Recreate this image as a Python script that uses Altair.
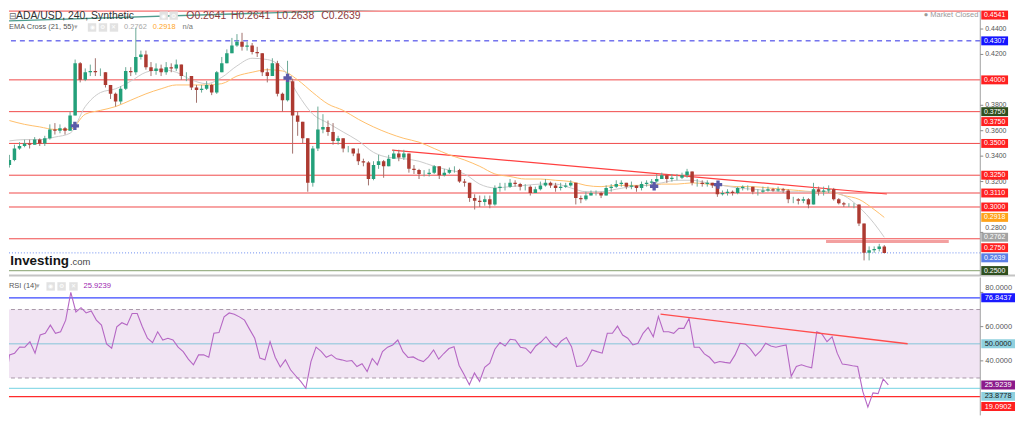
import altair as alt
import pandas as pd

# ---------------- time axis: day number counted from 1 Oct (1 Nov = 32, 1 Dec = 62) ----------------
first_candle_day = 21 + 1 / 3
candle_step_days = 1 / 3  # 8-hour candles
x_tick_values = [25, 28.625, 32, 36, 40, 44, 48, 52, 56, 62, 66, 70, 74, 78, 82]
x_tick_labels = ["25", "15:00", "Nov", "5", "9", "13", "17", "21", "25", "Dec", "5", "9", "13", "17", "21"]

# ---------------- ADA/USD candles ----------------
first_open = 0.333
closes = [
    0.337, 0.346, 0.348, 0.350, 0.349, 0.353, 0.350, 0.354, 0.361, 0.360,
    0.362, 0.360, 0.372, 0.413, 0.400, 0.406, 0.407, 0.406, 0.406, 0.396,
    0.389, 0.383, 0.393, 0.407, 0.406, 0.418, 0.420, 0.410, 0.407, 0.409,
    0.406, 0.410, 0.409, 0.412, 0.403, 0.403, 0.394, 0.392, 0.393, 0.396,
    0.390, 0.406, 0.413, 0.421, 0.427, 0.430, 0.426, 0.427, 0.422, 0.421,
    0.406, 0.403, 0.413, 0.389, 0.384, 0.399, 0.372, 0.367, 0.354, 0.319,
    0.346, 0.361, 0.363, 0.359, 0.352, 0.354, 0.346, 0.346, 0.342, 0.336,
    0.335, 0.322, 0.333, 0.336, 0.332, 0.338, 0.342, 0.339, 0.342, 0.330,
    0.329, 0.326, 0.326, 0.327, 0.332, 0.325, 0.327, 0.329, 0.329, 0.320,
    0.319, 0.307, 0.305, 0.304, 0.306, 0.302, 0.315, 0.316, 0.316, 0.319,
    0.318, 0.316, 0.316, 0.311, 0.314, 0.317, 0.319, 0.317, 0.315, 0.316,
    0.317, 0.319, 0.307, 0.306, 0.309, 0.311, 0.311, 0.309, 0.315, 0.316,
    0.318, 0.319, 0.316, 0.317, 0.315, 0.318, 0.319, 0.320, 0.322, 0.325,
    0.322, 0.323, 0.323, 0.325, 0.328, 0.319, 0.319, 0.318, 0.319, 0.317,
    0.310, 0.311, 0.312, 0.311, 0.315, 0.316, 0.316, 0.312, 0.312, 0.313,
    0.314, 0.313, 0.314, 0.313, 0.306, 0.306, 0.305, 0.306, 0.302, 0.314,
    0.312, 0.313, 0.314, 0.306, 0.303, 0.302, 0.302, 0.302, 0.287, 0.264,
    0.266, 0.267, 0.269, 0.2639]
highs = [
    0.341, 0.349, 0.351, 0.353, 0.353, 0.355, 0.354, 0.356, 0.365, 0.366,
    0.365, 0.363, 0.375, 0.416, 0.414, 0.409, 0.412, 0.417, 0.409, 0.406,
    0.396, 0.390, 0.395, 0.410, 0.410, 0.441, 0.423, 0.423, 0.414, 0.413,
    0.412, 0.414, 0.413, 0.416, 0.412, 0.406, 0.403, 0.396, 0.396, 0.399,
    0.397, 0.407, 0.418, 0.424, 0.433, 0.436, 0.437, 0.430, 0.429, 0.426,
    0.420, 0.409, 0.417, 0.415, 0.390, 0.415, 0.401, 0.375, 0.367, 0.346,
    0.348, 0.379, 0.373, 0.368, 0.366, 0.356, 0.353, 0.348, 0.346, 0.346,
    0.338, 0.336, 0.336, 0.341, 0.337, 0.341, 0.345, 0.345, 0.345, 0.342,
    0.333, 0.330, 0.329, 0.330, 0.333, 0.331, 0.330, 0.331, 0.332, 0.330,
    0.322, 0.319, 0.310, 0.309, 0.309, 0.309, 0.317, 0.319, 0.319, 0.322,
    0.321, 0.319, 0.318, 0.317, 0.316, 0.320, 0.322, 0.320, 0.319, 0.319,
    0.319, 0.321, 0.319, 0.309, 0.312, 0.313, 0.313, 0.312, 0.317, 0.318,
    0.321, 0.321, 0.319, 0.320, 0.317, 0.320, 0.321, 0.322, 0.326, 0.327,
    0.326, 0.326, 0.326, 0.327, 0.330, 0.328, 0.322, 0.321, 0.321, 0.319,
    0.319, 0.313, 0.314, 0.313, 0.316, 0.317, 0.317, 0.316, 0.314, 0.316,
    0.316, 0.315, 0.316, 0.315, 0.314, 0.308, 0.307, 0.308, 0.307, 0.319,
    0.316, 0.316, 0.317, 0.315, 0.307, 0.304, 0.303, 0.303, 0.302, 0.287,
    0.269, 0.269, 0.271, 0.270]
lows = [
    0.331, 0.336, 0.345, 0.347, 0.346, 0.349, 0.348, 0.348, 0.353, 0.357,
    0.358, 0.357, 0.360, 0.372, 0.398, 0.399, 0.403, 0.403, 0.403, 0.394,
    0.385, 0.379, 0.381, 0.392, 0.403, 0.404, 0.416, 0.408, 0.403, 0.404,
    0.403, 0.404, 0.406, 0.407, 0.400, 0.399, 0.392, 0.382, 0.390, 0.392,
    0.388, 0.389, 0.406, 0.413, 0.421, 0.426, 0.423, 0.423, 0.420, 0.418,
    0.403, 0.398, 0.404, 0.387, 0.375, 0.383, 0.342, 0.356, 0.350, 0.312,
    0.316, 0.344, 0.358, 0.356, 0.349, 0.349, 0.343, 0.343, 0.340, 0.333,
    0.332, 0.317, 0.321, 0.330, 0.323, 0.333, 0.338, 0.336, 0.337, 0.327,
    0.326, 0.322, 0.324, 0.324, 0.326, 0.322, 0.324, 0.326, 0.327, 0.319,
    0.316, 0.304, 0.298, 0.300, 0.301, 0.299, 0.301, 0.312, 0.313, 0.315,
    0.316, 0.313, 0.313, 0.309, 0.311, 0.313, 0.316, 0.315, 0.312, 0.313,
    0.315, 0.316, 0.302, 0.303, 0.305, 0.309, 0.309, 0.307, 0.309, 0.312,
    0.315, 0.316, 0.314, 0.314, 0.312, 0.313, 0.316, 0.318, 0.319, 0.322,
    0.319, 0.320, 0.321, 0.322, 0.323, 0.317, 0.316, 0.316, 0.316, 0.315,
    0.308, 0.309, 0.309, 0.309, 0.310, 0.313, 0.313, 0.310, 0.309, 0.311,
    0.312, 0.312, 0.312, 0.311, 0.303, 0.303, 0.302, 0.303, 0.299, 0.302,
    0.309, 0.309, 0.311, 0.305, 0.302, 0.300, 0.300, 0.299, 0.285, 0.258,
    0.258, 0.264, 0.265, 0.2635]

# ---------------- EMA Cross (21, 55), read once per day ----------------
ema_candle_index = list(range(0, 172, 3)) + [173]
ema21 = [
    0.352, 0.353, 0.353, 0.355, 0.358, 0.379, 0.390, 0.393, 0.399, 0.406,
    0.408, 0.406, 0.400, 0.397, 0.402, 0.411, 0.417, 0.416, 0.409, 0.389,
    0.373, 0.366, 0.359, 0.352, 0.343, 0.339, 0.338, 0.336, 0.332, 0.329,
    0.326, 0.318, 0.315, 0.316, 0.317, 0.318, 0.318, 0.315, 0.312, 0.312,
    0.314, 0.316, 0.317, 0.319, 0.321, 0.321, 0.319, 0.317, 0.315, 0.314,
    0.313, 0.312, 0.312, 0.312, 0.312, 0.309, 0.300, 0.287, 0.2762]
ema55 = [
    0.368, 0.365, 0.363, 0.361, 0.361, 0.373, 0.376, 0.379, 0.384, 0.389,
    0.393, 0.396, 0.396, 0.396, 0.397, 0.403, 0.406, 0.408, 0.407, 0.400,
    0.390, 0.381, 0.376, 0.369, 0.363, 0.358, 0.354, 0.351, 0.346, 0.341,
    0.337, 0.332, 0.326, 0.324, 0.322, 0.322, 0.321, 0.320, 0.317, 0.316,
    0.317, 0.317, 0.317, 0.318, 0.318, 0.319, 0.318, 0.317, 0.316, 0.316,
    0.315, 0.314, 0.313, 0.312, 0.312, 0.309, 0.306, 0.298, 0.2918]
cross_days = [25.65, 39.67, 63.83, 68.04]
cross_values = [0.3638, 0.4015, 0.3163, 0.3176]

# ---------------- RSI (14) ----------------
rsi14 = [
    22.0, 43.5, 44.5, 48.1, 48.0, 51.2, 44.5, 55.1, 56.1, 60.9,
    56.1, 57.0, 63.8, 80.0, 68.6, 71.1, 68.0, 69.2, 63.8, 60.9,
    49.9, 47.4, 59.9, 62.3, 60.9, 67.7, 67.7, 59.9, 53.2, 50.6,
    57.0, 52.2, 53.2, 52.2, 48.0, 45.4, 41.0, 37.7, 43.5, 43.5,
    42.1, 56.1, 56.5, 65.7, 68.0, 67.3, 65.7, 63.8, 58.4, 53.2,
    41.6, 40.6, 51.2, 42.1, 36.4, 40.6, 34.8, 31.3, 28.0, 24.0,
    39.6, 48.0, 45.6, 42.1, 43.5, 41.2, 40.6, 39.8, 40.2, 36.7,
    38.3, 33.8, 41.4, 37.7, 45.4, 48.0, 49.3, 52.2, 45.4, 42.0,
    42.3, 40.6, 39.6, 42.3, 46.4, 41.0, 44.3, 47.2, 48.3, 37.3,
    31.9, 26.1, 32.9, 28.0, 36.2, 38.7, 46.8, 50.8, 48.7, 52.6,
    52.2, 48.0, 47.4, 44.5, 48.7, 51.0, 54.1, 50.3, 48.0, 51.6,
    53.7, 48.3, 36.7, 37.1, 40.2, 46.4, 45.4, 44.5, 56.1, 56.1,
    60.3, 55.1, 53.2, 49.3, 50.3, 56.1, 59.5, 54.1, 66.0, 57.0,
    57.0, 56.1, 59.0, 59.0, 64.8, 48.0, 48.0, 44.1, 42.1, 38.7,
    39.6, 39.1, 38.7, 43.5, 50.3, 49.9, 47.0, 42.9, 45.8, 50.3,
    48.7, 48.0, 48.7, 49.3, 31.0, 36.7, 37.7, 36.7, 36.0, 57.0,
    55.7, 51.2, 54.1, 44.5, 38.1, 37.7, 37.1, 36.7, 22.2, 13.0,
    21.3, 20.9, 29.4, 25.92]

# ---------------- drawn levels and trend lines ----------------
red_levels = [0.4541, 0.4000, 0.3750, 0.3500, 0.3250, 0.3110, 0.3000, 0.2750]
dashed_level = [0.4307]
green_level = [0.2500]
last_price = [0.2639]
zone_level = [0.2729]
zone_days = [75.16, 83.25]
price_trend_days = [46.55, 79.17]
price_trend_values = [0.3448, 0.3102]
upper_trend_days = [21.31, 47.0]
upper_trend_values = [0.4464, 0.4559]

rsi_band = [30, 70]
rsi_trend_days = [64.14, 80.26]
rsi_trend_values = [67.3, 50.0]

# scale labels that stay visible beside the value tags
price_axis_values = [0.44, 0.42, 0.38, 0.36, 0.34, 0.32]
price_axis_values_raised = [0.28]
rsi_axis_values = [40, 60]
rsi_axis_values_raised = [80]

price_tag_values = [0.4541, 0.4307, 0.4000, 0.3750, 0.3750, 0.3500, 0.3250,
                    0.3110, 0.3000, 0.2918, 0.2762, 0.2750, 0.2639, 0.2500]
rsi_tag_values = [76.8437, 50.0, 25.9239, 23.8778, 19.0902]

# ---------------- styling ----------------
RED = "#ff2020"
price_tag_fill = [RED, "#1515ff", RED, "#2f4f1f", RED, RED, RED, RED, RED,
                  "#ffa31a", "#a3a3a3", RED, "#5b7fe6", "#2f4f1f"]
price_tag_nudge = {0: 4, 4: 10, 11: 9, 12: 5}
rsi_tag_fill = ["#1a1aff", "#8fd0de", "#8b1a8b", "#8fd0de", RED]
rsi_tag_text = ["white", "#1a1a1a", "white", "#1a1a1a", "white"]
rsi_tag_nudge = {3: 8, 4: 10}
UP, DOWN = "#23a07a", "#ad3a31"
UP_WICK, DOWN_WICK = "#6aa895", "#a0706b"

W = 979
H_TOP, H_RSI = 267, 139

# ---------------- tables ----------------
n = min(len(closes), len(highs), len(lows), len(rsi14))
opens = [first_open] + closes[: n - 1]
candles = pd.DataFrame({
    "t": [first_candle_day + i * candle_step_days for i in range(n)],
    "o": opens, "h": highs[:n], "l": lows[:n], "c": closes[:n], "r": rsi14[:n],
})
candles["h"] = candles[["h", "o", "c"]].max(axis=1)
candles["l"] = candles[["l", "o", "c"]].min(axis=1)

ema = pd.DataFrame({
    "t": [first_candle_day + i * candle_step_days for i in ema_candle_index],
    "e21": ema21, "e55": ema55,
})

xs = alt.Scale(domain=[21.634, 85.0], nice=False, zero=False)
ys = alt.Scale(domain=[0.2461, 0.45449], nice=False, zero=False)
rs = alt.Scale(domain=[8.14, 88.72], nice=False, zero=False)

label_expr = " : ".join(f"datum.value == {v} ? '{s}'" for v, s in zip(x_tick_values, x_tick_labels)) + " : ''"
x_axis = alt.Axis(values=x_tick_values, labelExpr=label_expr, title=None, grid=False, ticks=False,
                  labelFontSize=7.5, labelColor="#555", domainColor="#b0b0b0", labelPadding=4)


def text_at(s, x, y, size, color, weight="normal", align="left", baseline="middle"):
    return alt.Chart(pd.DataFrame({"s": [s]})).mark_text(
        fontSize=size, color=color, fontWeight=weight, align=align, baseline=baseline
    ).encode(x=alt.value(x), y=alt.value(y), text="s:N")


def icon(x, y, glyph):
    d = pd.DataFrame({"s": [glyph]})
    box = alt.Chart(d).mark_point(shape="square", filled=True, color="#e2e2e2", opacity=1,
                                  size=72).encode(x=alt.value(x), y=alt.value(y))
    g = alt.Chart(d).mark_text(fontSize=6.5, color="white", align="center", baseline="middle").encode(
        x=alt.value(x), y=alt.value(y), text="s:N")
    return [box, g]


def right_axis(values, raised, yscale, fsize):
    """Price-scale axis on the right edge: domain line, ticks and labels."""
    layers = [alt.Chart(pd.DataFrame({"k": [0]})).mark_rule(color="#a0a0a0", strokeWidth=1).encode(
        x=alt.value(W))]
    d = pd.DataFrame({"v": values + raised})
    layers.append(alt.Chart(d).mark_rule(color="#8a8a8a", strokeWidth=1).encode(
        x=alt.value(W), x2=alt.value(W + 3), y=alt.Y("v:Q", scale=yscale, axis=None)))
    for vals, dy in ((values, 0), (raised, -4)):
        layers.append(alt.Chart(pd.DataFrame({"v": vals})).mark_text(
            align="left", baseline="middle", fontSize=fsize, color="#555", yOffset=dy).encode(
            x=alt.value(W + 5), y=alt.Y("v:Q", scale=yscale, axis=None),
            text=alt.Text("v:Q", format=".4f")))
    return layers


def tag(value, label, fill, tcolor, nudge, yscale, xc, width, height, fsize):
    d = pd.DataFrame({"v": [value], "s": [label]})
    half = height / width
    path = f"M-1,-{half:.4f}L1,-{half:.4f}L1,{half:.4f}L-1,{half:.4f}Z"
    box = alt.Chart(d).mark_point(shape=path, filled=True, color=fill, opacity=1, strokeWidth=0,
                                  size=width * width, yOffset=nudge).encode(
        x=alt.value(xc), y=alt.Y("v:Q", scale=yscale, axis=None))
    txt = alt.Chart(d).mark_text(color=tcolor, fontSize=fsize, align="center", baseline="middle",
                                 yOffset=nudge).encode(
        x=alt.value(xc), y=alt.Y("v:Q", scale=yscale, axis=None), text="s:N")
    return [box, txt]


# ---------------- price panel ----------------
top_layers = []
top_layers.append(alt.Chart(pd.DataFrame({"v": red_levels})).mark_rule(color="#f04848", strokeWidth=1).encode(
    y=alt.Y("v:Q", scale=ys, axis=None)))
top_layers.append(alt.Chart(pd.DataFrame({"v": dashed_level})).mark_rule(
    color="#2b2be6", strokeWidth=1, strokeDash=[5, 4]).encode(y=alt.Y("v:Q", scale=ys, axis=None)))
top_layers.append(alt.Chart(pd.DataFrame({"v": green_level})).mark_rule(color="#9db38a", strokeWidth=1.2).encode(
    y=alt.Y("v:Q", scale=ys, axis=None)))
top_layers.append(alt.Chart(pd.DataFrame({"v": last_price})).mark_rule(
    color="#6a8cf0", strokeWidth=1, strokeDash=[1, 2]).encode(y=alt.Y("v:Q", scale=ys, axis=None)))
top_layers.append(alt.Chart(pd.DataFrame({"v": zone_level, "a": [zone_days[0]], "b": [zone_days[1]]})).mark_rule(
    color="#f3a0a0", strokeWidth=3).encode(
    x=alt.X("a:Q", scale=xs, axis=None), x2="b:Q", y=alt.Y("v:Q", scale=ys, axis=None)))
top_layers.append(alt.Chart(pd.DataFrame({"t": price_trend_days, "v": price_trend_values})).mark_line(
    color="#ff4040", strokeWidth=1.2, clip=True).encode(
    x=alt.X("t:Q", scale=xs, axis=None), y=alt.Y("v:Q", scale=ys, axis=None)))
top_layers.append(alt.Chart(pd.DataFrame({"t": upper_trend_days, "v": upper_trend_values})).mark_line(
    color="#4f9d8f", strokeWidth=1.3, clip=True).encode(
    x=alt.X("t:Q", scale=xs, axis=None), y=alt.Y("v:Q", scale=ys, axis=None)))
top_layers.append(alt.Chart(ema).mark_line(color="#ffbe6a", strokeWidth=1, interpolate="monotone", clip=True).encode(
    x=alt.X("t:Q", scale=xs, axis=None), y=alt.Y("e55:Q", scale=ys, axis=None)))
top_layers.append(alt.Chart(ema).mark_line(color="#cacaca", strokeWidth=1, interpolate="monotone", clip=True).encode(
    x=alt.X("t:Q", scale=xs, axis=None), y=alt.Y("e21:Q", scale=ys, axis=None)))
top_layers.append(alt.Chart(candles).mark_rule(strokeWidth=1, clip=True).encode(
    x=alt.X("t:Q", scale=xs, axis=None), y=alt.Y("l:Q", scale=ys, axis=None), y2="h:Q",
    color=alt.condition("datum.c >= datum.o", alt.value(UP_WICK), alt.value(DOWN_WICK))))
top_layers.append(alt.Chart(candles).mark_bar(size=3.5, clip=True).encode(
    x=alt.X("t:Q", scale=xs, axis=None), y=alt.Y("o:Q", scale=ys, axis=None), y2="c:Q",
    color=alt.condition("datum.c >= datum.o", alt.value(UP), alt.value(DOWN))))
top_layers.append(alt.Chart(pd.DataFrame({"t": cross_days, "v": cross_values})).mark_point(
    shape="cross", filled=True, color="#5a5aa8", opacity=1, size=70).encode(
    x=alt.X("t:Q", scale=xs, axis=None), y=alt.Y("v:Q", scale=ys, axis=None)))
# panel separator
top_layers.append(alt.Chart(pd.DataFrame({"k": [0]})).mark_rule(color="#c4c4c4", strokeWidth=2).encode(
    y=alt.value(H_TOP), x=alt.value(0), x2=alt.value(W + 35)))
top_layers += right_axis(price_axis_values, price_axis_values_raised, ys, 7)

for i, v in enumerate(price_tag_values):
    top_layers += tag(v, f"{v:.4f}", price_tag_fill[i], "white", price_tag_nudge.get(i, 0),
                      ys, 993.5, 27, 9, 7)

# header, line 1
top_layers.append(text_at("⊟", 0, 8.5, 9, "#666", baseline="alphabetic"))
top_layers.append(text_at("ADA/USD, 240, Synthetic", 7, 8.5, 10.5, "#333", baseline="alphabetic"))
top_layers += icon(156, 5, "◉") + icon(166, 5, "⚙")
for s, x in zip(["O0.2641", "H0.2641", "L0.2638", "C0.2639"], [178.7, 223.7, 269.7, 314.7]):
    top_layers.append(text_at(s, x, 8.5, 10.5, "#8d3c3c", baseline="alphabetic"))
# header, line 2
top_layers.append(text_at("EMA Cross (21, 55)", 0, 17, 7.5, "#555"))
top_layers.append(text_at("▾", 66, 17, 7, "#aaa"))
top_layers += icon(83.7, 17, "◉") + icon(94.7, 17, "⚙") + icon(105.8, 17, "✕")
top_layers.append(text_at("0.2762", 116, 17, 7.5, "#a8a8a8"))
top_layers.append(text_at("0.2918", 145, 17, 7.5, "#ffa726"))
top_layers.append(text_at("n/a", 175, 17, 7.5, "#777"))
# market status and logo
top_layers.append(text_at("● Market Closed", 977, 6.5, 7.5, "#9a9a9a", align="right", baseline="alphabetic"))
top_layers.append(text_at("Investing", 1.3, 256, 13.5, "#151515", weight="bold", baseline="alphabetic"))
top_layers.append(text_at(".com", 61.5, 256, 9.5, "#444", baseline="alphabetic"))

top = alt.layer(*top_layers).properties(width=W, height=H_TOP)

# ---------------- RSI panel ----------------
rsi_layers = []
rsi_layers.append(alt.Chart(pd.DataFrame({"lo": [rsi_band[0]], "hi": [rsi_band[1]]})).mark_rect(
    color="#f1e4f3").encode(y=alt.Y("hi:Q", scale=rs, axis=None), y2="lo:Q",
                             x=alt.value(0), x2=alt.value("width")))
rsi_layers.append(alt.Chart(pd.DataFrame({"v": rsi_band})).mark_rule(
    color="#a898a8", strokeWidth=1, strokeDash=[4, 3]).encode(y=alt.Y("v:Q", scale=rs, axis=None)))
for v, col, w in [(76.8437, "#3b48ff", 1.3), (50.0, "#a9cfe2", 1.5), (23.8778, "#8fdbe8", 1.3), (19.0902, "#ff2b2b", 1.3)]:
    rsi_layers.append(alt.Chart(pd.DataFrame({"v": [v]})).mark_rule(color=col, strokeWidth=w).encode(
        y=alt.Y("v:Q", scale=rs, axis=None)))
rsi_layers.append(alt.Chart(candles).mark_line(color="#b567c4", strokeWidth=1.1, clip=True).encode(
    x=alt.X("t:Q", scale=xs, axis=x_axis), y=alt.Y("r:Q", scale=rs, axis=None)))
rsi_layers.append(alt.Chart(pd.DataFrame({"t": rsi_trend_days, "v": rsi_trend_values})).mark_line(
    color="#ff4d4d", strokeWidth=1.3).encode(
    x=alt.X("t:Q", scale=xs, axis=None), y=alt.Y("v:Q", scale=rs, axis=None)))
rsi_layers += right_axis(rsi_axis_values, rsi_axis_values_raised, rs, 7.5)
for i, v in enumerate(rsi_tag_values):
    rsi_layers += tag(v, f"{v:.4f}", rsi_tag_fill[i], rsi_tag_text[i], rsi_tag_nudge.get(i, 0),
                      rs, 997, 34, 9, 7.5)
rsi_layers.append(text_at("RSI (14)", 0, 9, 7.5, "#555"))
rsi_layers.append(text_at("▾", 27, 9, 7, "#aaa"))
rsi_layers += icon(42, 9, "◉") + icon(53, 9, "⚙") + icon(65, 9, "✕")
rsi_layers.append(text_at("25.9239", 75, 9, 7.7, "#9c27b0"))

bottom = alt.layer(*rsi_layers).properties(width=W, height=H_RSI)

chart = (
    alt.vconcat(top, bottom, spacing=2, bounds="flush", padding=0)
    .configure(font="Liberation Sans")
    .configure_view(strokeWidth=0)
)
chart.save("out.html", embed_options={"renderer": "svg", "actions": False})
